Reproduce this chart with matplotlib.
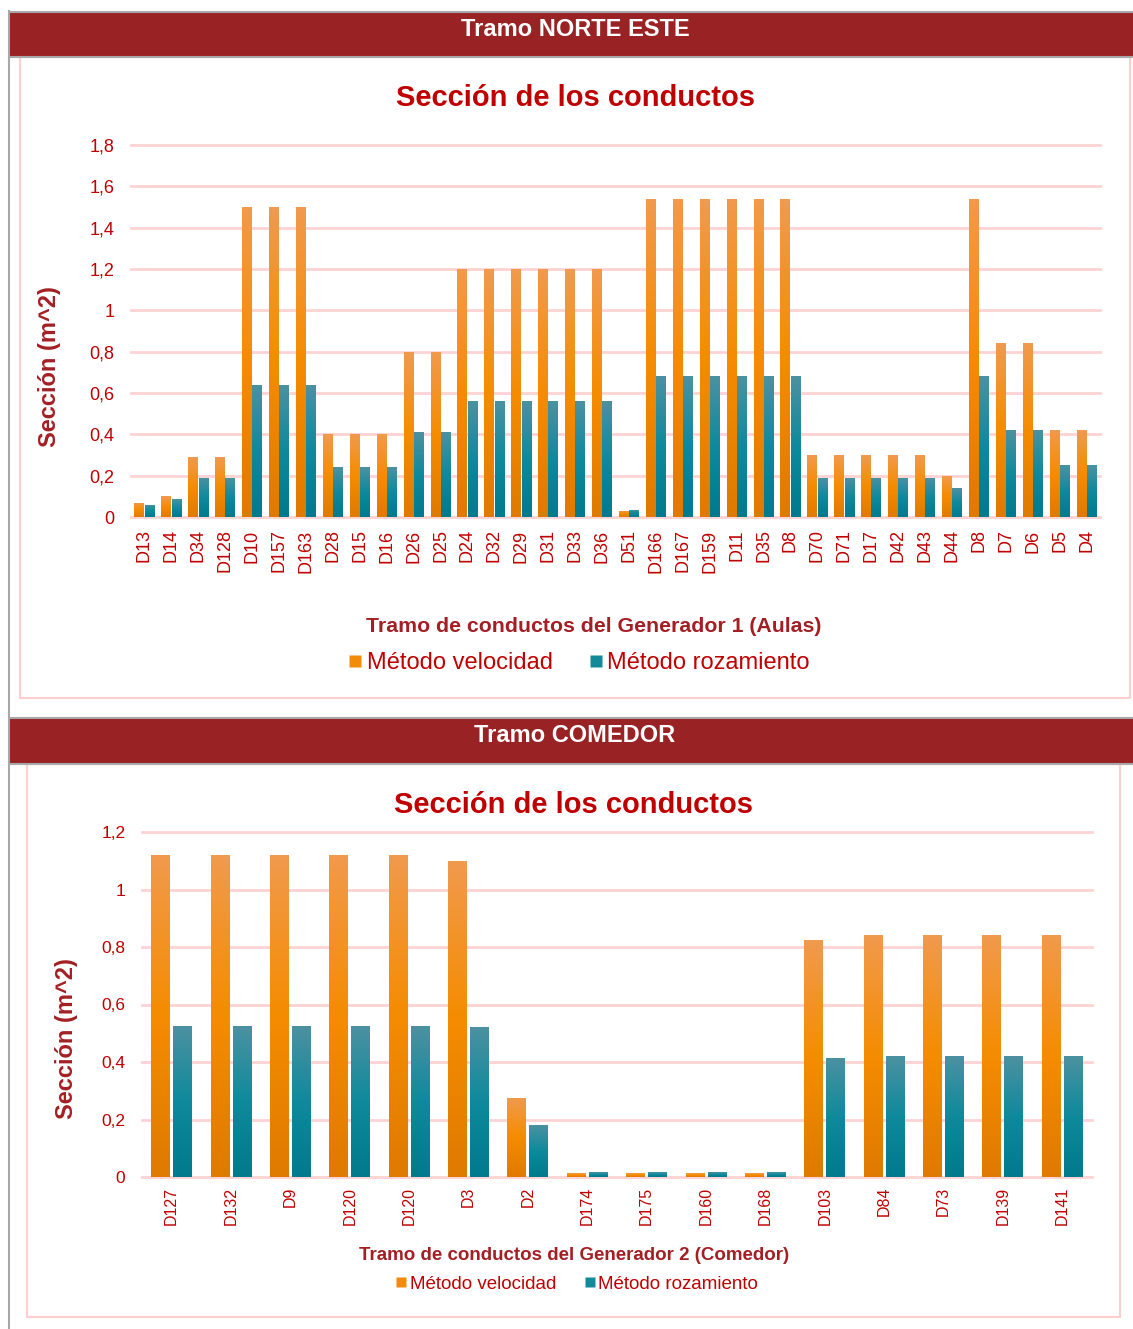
import numpy as np
import matplotlib
matplotlib.use("Agg")
import matplotlib.pyplot as plt
from matplotlib.colors import LinearSegmentedColormap
from matplotlib.patches import Rectangle
from matplotlib.lines import Line2D

plt.rcParams['font.family'] = ['Liberation Sans', 'DejaVu Sans']

# ---- data -------------------------------------------------------------
aulas_labels = ["D13", "D14", "D34", "D128", "D10", "D157", "D163", "D28", "D15",
                "D16", "D26", "D25", "D24", "D32", "D29", "D31", "D33", "D36",
                "D51", "D166", "D167", "D159", "D11", "D35", "D8", "D70", "D71",
                "D17", "D42", "D43", "D44", "D8", "D7", "D6", "D5", "D4"]
aulas_velocidad = [0.07, 0.10, 0.29, 0.29, 1.50, 1.50, 1.50, 0.40, 0.40,
                   0.40, 0.80, 0.80, 1.20, 1.20, 1.20, 1.20, 1.20, 1.20,
                   0.03, 1.54, 1.54, 1.54, 1.54, 1.54, 1.54, 0.30, 0.30,
                   0.30, 0.30, 0.30, 0.20, 1.54, 0.84, 0.84, 0.42, 0.42]
aulas_rozamiento = [0.06, 0.085, 0.19, 0.19, 0.64, 0.64, 0.64, 0.24, 0.24,
                    0.24, 0.41, 0.41, 0.56, 0.56, 0.56, 0.56, 0.56, 0.56,
                    0.035, 0.68, 0.68, 0.68, 0.68, 0.68, 0.68, 0.19, 0.19,
                    0.19, 0.19, 0.19, 0.14, 0.68, 0.42, 0.42, 0.25, 0.25]

comedor_labels = ["D127", "D132", "D9", "D120", "D120", "D3", "D2", "D174",
                  "D175", "D160", "D168", "D103", "D84", "D73", "D139", "D141"]
comedor_velocidad = [1.12, 1.12, 1.12, 1.12, 1.12, 1.10, 0.274, 0.013,
                     0.013, 0.013, 0.013, 0.824, 0.842, 0.842, 0.842, 0.842]
comedor_rozamiento = [0.525, 0.525, 0.525, 0.525, 0.525, 0.522, 0.18, 0.016,
                      0.016, 0.016, 0.016, 0.413, 0.42, 0.42, 0.42, 0.42]

series_names = ["Método velocidad", "Método rozamiento"]

# ---- style ------------------------------------------------------------
W, H = 1133, 1329
RED = "#C00000"
DARK_RED = "#A31F24"
BAND = "#992224"
GRID = "#FFD3D3"
GRAY = "#A8A8A8"
ORANGE_BASE = "#F38B0A"
TEAL_BASE = "#138A9A"
orange_cmap = LinearSegmentedColormap.from_list(
    "orange_grad", ["#DF7A00", "#F58C00", "#F19A4E"])
teal_cmap = LinearSegmentedColormap.from_list(
    "teal_grad", ["#007A8C", "#0E8A9C", "#4C91A1"])

fig = plt.figure(figsize=(W / 100, H / 100), dpi=100)


def fx(px):
    return px / W


def fy(py):
    return 1 - py / H


def rect_px(x0, y0, x1, y1, **kw):
    fig.add_artist(Rectangle((fx(x0), fy(y1)), fx(x1) - fx(x0), fy(y0) - fy(y1),
                             transform=fig.transFigure, zorder=-10, **kw))


def hline_px(x0, x1, y, **kw):
    fig.add_artist(Line2D([fx(x0), fx(x1)], [fy(y), fy(y)],
                          transform=fig.transFigure, zorder=-5, **kw))


def gradient_bars(ax, x, values, width, cmap, base):
    bars = ax.bar(x, values, width=width, color=base, linewidth=0, zorder=2)
    grad = np.linspace(0, 1, 256).reshape(-1, 1)
    for b in bars:
        x0, w, h = b.get_x(), b.get_width(), b.get_height()
        im = ax.imshow(grad, extent=[x0, x0 + w, 0, h], origin="lower",
                       aspect="auto", cmap=cmap, zorder=3,
                       interpolation="bilinear")
        im.set_clip_path(b)
    return bars


def style_axes(ax, labels, ymax, ystep, ytick_size, xtick_size, pad_y, pad_x):
    n = len(labels)
    ax.set_xlim(-0.5, n - 0.5)
    ax.set_ylim(0, ymax)
    ticks = np.round(np.arange(0, ymax + 1e-9, ystep), 2)
    ax.set_yticks(ticks)
    ax.set_yticklabels([f"{v:g}".replace(".", ",") for v in ticks])
    ax.set_xticks(np.arange(n))
    ax.set_xticklabels(labels, rotation=90)
    ax.tick_params(axis="y", length=0, pad=pad_y, labelsize=ytick_size,
                   labelcolor=RED)
    ax.tick_params(axis="x", length=0, pad=pad_x, labelsize=xtick_size,
                   labelcolor=RED)
    ax.yaxis.grid(True, color=GRID, linewidth=2)
    for gl in ax.get_ygridlines():
        gl.set_clip_on(False)
    ax.set_axisbelow(True)
    for s in ax.spines.values():
        s.set_visible(False)
    ax.patch.set_alpha(0)


# ---- frames and header bands ------------------------------------------
rect_px(20, 57, 1130, 698, facecolor="white", edgecolor="#FFCFCF", linewidth=1.5)
rect_px(27, 764, 1120, 1317, facecolor="white", edgecolor="#FFCFCF", linewidth=1.5)
rect_px(9, 12, 1133, 56, facecolor=BAND, edgecolor="none")
rect_px(9, 718, 1133, 763, facecolor=BAND, edgecolor="none")
for yy in (11.5, 56.5, 717.5, 763.5):
    hline_px(9, 1133, yy, color=GRAY, linewidth=1.5)
fig.add_artist(Line2D([fx(9), fx(9)], [fy(11), fy(1329)],
                      transform=fig.transFigure, color=GRAY, linewidth=1.5,
                      zorder=-5))

fig.text(fx(575), fy(29), "Tramo NORTE ESTE", color="white", fontsize=17,
         fontweight="bold", ha="center", va="center")
fig.text(fx(575), fy(736), "Tramo COMEDOR", color="white", fontsize=17,
         fontweight="bold", ha="center", va="center")

# ---- chart 1: Generador 1 (Aulas) -------------------------------------
ax1 = fig.add_axes([fx(131), fy(517), fx(1100) - fx(131), fy(145) - fy(517)])
x1 = np.arange(len(aulas_labels))
gradient_bars(ax1, x1 - 0.19, aulas_velocidad, 0.36, orange_cmap, ORANGE_BASE)
gradient_bars(ax1, x1 + 0.19, aulas_rozamiento, 0.36, teal_cmap, TEAL_BASE)
style_axes(ax1, aulas_labels, 1.8, 0.2, 13, 13, 12, 9)

fig.text(fx(575), fy(98), "Sección de los conductos", color=RED, fontsize=21,
         fontweight="bold", ha="center", va="center")
fig.text(fx(50), fy(367), "Sección (m^2)", color=DARK_RED, fontsize=17,
         fontweight="bold", ha="center", va="center", rotation=90)
fig.text(fx(594), fy(627), "Tramo de conductos del Generador 1 (Aulas)",
         color=DARK_RED, fontsize=15.3, fontweight="bold", ha="center",
         va="center")

handles1 = [Line2D([], [], marker="s", linestyle="none", markersize=9,
                   markerfacecolor=c, markeredgecolor="none")
            for c in (ORANGE_BASE, TEAL_BASE)]
fig.legend(handles1, series_names, loc="center",
           bbox_to_anchor=(fx(579), fy(663)), ncol=2, frameon=False,
           fontsize=17, labelcolor=RED, handlelength=0.6, handletextpad=0.2,
           columnspacing=1.5, borderpad=0)

# ---- chart 2: Generador 2 (Comedor) -----------------------------------
ax2 = fig.add_axes([fx(142), fy(1177), fx(1092) - fx(142), fy(832) - fy(1177)])
x2 = np.arange(len(comedor_labels))
gradient_bars(ax2, x2 - 0.19, comedor_velocidad, 0.31, orange_cmap, ORANGE_BASE)
gradient_bars(ax2, x2 + 0.18, comedor_rozamiento, 0.31, teal_cmap, TEAL_BASE)
style_axes(ax2, comedor_labels, 1.2, 0.2, 12.5, 11.5, 12, 7)

fig.text(fx(573), fy(805), "Sección de los conductos", color=RED, fontsize=21,
         fontweight="bold", ha="center", va="center")
fig.text(fx(66), fy(1039), "Sección (m^2)", color=DARK_RED, fontsize=17,
         fontweight="bold", ha="center", va="center", rotation=90)
fig.text(fx(574), fy(1256), "Tramo de conductos del Generador 2 (Comedor)",
         color=DARK_RED, fontsize=13.5, fontweight="bold", ha="center",
         va="center")

handles2 = [Line2D([], [], marker="s", linestyle="none", markersize=7.5,
                   markerfacecolor=c, markeredgecolor="none")
            for c in (ORANGE_BASE, TEAL_BASE)]
fig.legend(handles2, series_names, loc="center",
           bbox_to_anchor=(fx(577), fy(1284)), ncol=2, frameon=False,
           fontsize=13.5, labelcolor=RED, handlelength=0.6, handletextpad=0.15,
           columnspacing=1.5, borderpad=0)

fig.savefig("out.png", dpi=100, facecolor="white")
